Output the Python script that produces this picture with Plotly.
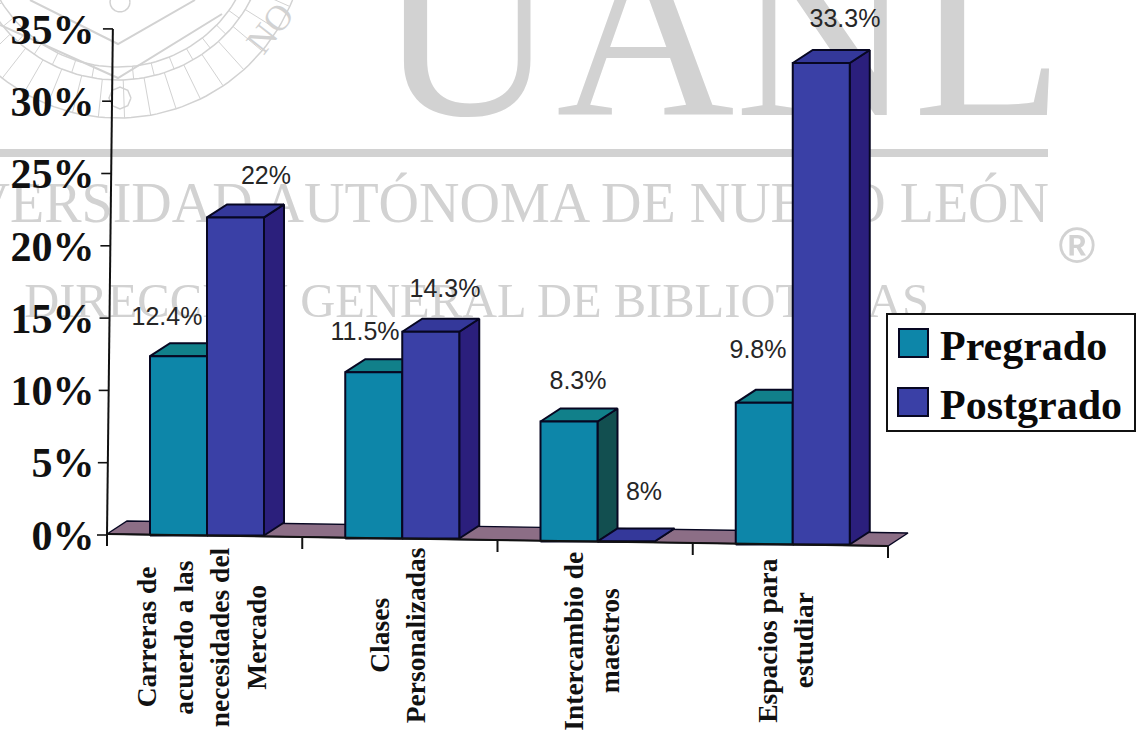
import math
import plotly.graph_objects as go

# ---------- data ----------
categories = [["Carreras de", "acuerdo a las", "necesidades del", "Mercado"],
              ["Clases", "Personalizadas"],
              ["Intercambio de", "maestros"],
              ["Espacios para", "estudiar"]]
pregrado = [12.4, 11.5, 8.3, 9.8]
postgrado = [22, 14.3, 0, 33.3]
pregrado_labels = ["12.4%", "11.5%", "8.3%", "9.8%"]
postgrado_labels = ["22%", "14.3%", "8%", "33.3%"]
y_ticks = [0, 5, 10, 15, 20, 25, 30, 35]
y_tick_labels = ["0%", "5%", "10%", "15%", "20%", "25%", "30%", "35%"]

# ---------- layout geometry ----------
W, H = 1142, 733
X0, UX = 107, 195.25     # pixel of category edge 0, pixels per category
Y0, UY = 535, 14.46      # pixel of 0%, pixels per 1%
DX, DY = 20, 13          # 3D depth, pixels
BAR_W = 57


def u(px):
    return (px - X0) / UX


def v(py):
    return (Y0 - py) / UY


def sink(x):
    """pixels the floor has dropped at data position x"""
    return -1 + 3 * x


C_PRE, C_PRE_TOP, C_PRE_SIDE = "#0D86A9", "#11808A", "#124F50"
C_POST, C_POST_TOP, C_POST_SIDE = "#3A40A6", "#34389A", "#2B1F7C"
C_FLOOR = "#8C6E86"
C_EDGE = "#070722"
WM = "#D2D2D2"

fig = go.Figure()


def poly(xs, ys, fill, name, line=C_EDGE, width=2):
    fig.add_trace(go.Scatter(x=xs + xs[:1], y=ys + ys[:1], mode="lines", fill="toself",
                             fillcolor=fill, line=dict(color=line, width=width),
                             hoverinfo="skip", showlegend=False, name=name))


def seg(xs, ys, color, width, name):
    fig.add_trace(go.Scatter(x=xs, y=ys, mode="lines", line=dict(color=color, width=width),
                             hoverinfo="skip", showlegend=False, name=name))


def txt(px, py, text, size, color, family, pos="middle center"):
    fig.add_trace(go.Scatter(x=[u(px)], y=[v(py)], mode="text", text=[text], textposition=pos,
                             textfont=dict(size=size, color=color, family=family),
                             hoverinfo="skip", showlegend=False))


# ---------- watermark (behind the chart) ----------
SERIF = "Liberation Serif"
txt(721, 53, "UANL", 247, WM, SERIF)
txt(1049, 208, "UNIVERSIDAD AUTÓNOMA DE NUEVO LEÓN", 56, WM, SERIF, "middle left")
txt(929, 305, "DIRECCIÓN GENERAL DE BIBLIOTECAS", 48.5, WM, SERIF, "middle left")
txt(1077, 250, "<b>®</b>", 50, WM, "Liberation Sans")
seg([u(0), u(1048)], [v(153), v(153)], WM, 8, "rule")

cx, cy = 118, -70
for r in (188, 150, 137):
    a = [math.radians(t) for t in range(0, 181, 2)]
    seg([u(cx + r * math.cos(t)) for t in a], [v(cy + r * math.sin(t)) for t in a], WM, 1.5, "seal")
for t in range(20, 161, 4):
    a = math.radians(t)
    r1, r2 = (150, 188) if t % 8 == 0 else (137, 150)
    seg([u(cx + r1 * math.cos(a)), u(cx + r2 * math.cos(a))],
        [v(cy + r1 * math.sin(a)), v(cy + r2 * math.sin(a))], WM, 1, "seal")
seg([u(0), u(118), u(222)], [v(25), v(78), v(14)], WM, 2, "shield")
seg([u(30), u(118), u(195)], [v(0), v(44), v(0)], WM, 2, "shield")
a = [math.radians(t) for t in range(0, 361, 45)]
seg([u(120 + 11 * math.cos(t)) for t in a], [v(98 + 11 * math.sin(t)) for t in a], WM, 1.5, "seal")
a = [math.radians(t) for t in range(0, 361, 20)]
seg([u(120 + 10 * math.cos(t)) for t in a], [v(2 + 10 * math.sin(t)) for t in a], WM, 1.5, "seal")

# ---------- floor ----------
end = 4.0
poly([0, end, u(X0 + end * UX + DX), u(X0 + DX)],
     [v(Y0 + sink(0)), v(Y0 + sink(end)), v(Y0 + sink(end) - DY), v(Y0 + sink(0) - DY)],
     C_FLOOR, "floor", width=1.4)


# ---------- bars ----------
def bar(x_left_px, value, base_px, front, top, side, name):
    h = value
    base = v(base_px)
    xl, xr = u(x_left_px), u(x_left_px + BAR_W)
    dx, dy = DX / UX, DY / UY
    poly([xr, xr + dx, xr + dx, xr], [base, base + dy, base + h + dy, base + h], side, name + " side")
    poly([xl, xr, xr + dx, xl + dx], [base + h, base + h, base + h + dy, base + h + dy], top, name + " top")
    poly([xl, xr, xr, xl], [base, base, base + h, base + h], front, name)


for i, (a_val, b_val) in enumerate(zip(pregrado, postgrado)):
    left = X0 + i * UX + 43
    base_px = Y0 + sink(i + 0.5)
    bar(left, a_val, base_px, C_PRE, C_PRE_TOP, C_PRE_SIDE, "Pregrado")
    bar(left + BAR_W, b_val, base_px, C_POST, C_POST_TOP, C_POST_SIDE, "Postgrado")

# ---------- axes drawn with the slight tilt of the scan ----------
seg([0, 0.03], [0, 35], "#111111", 2, "y axis")
for t in y_ticks:
    seg([u(X0 + t * 0.17 - 10), u(X0 + t * 0.17)], [t, t], "#111111", 1.6, "y tick")
seg([0, end], [v(Y0 + sink(0)), v(Y0 + sink(end))], "#111111", 2, "x axis")
for i in range(5):
    seg([i, i], [v(Y0 + sink(i)), v(Y0 + sink(i) + 12)], "#111111", 2, "x tick")

# ---------- value labels ----------
pre_label_px = [(167, 319), (365, 334), (578, 383), (758, 352)]
post_label_px = [(266, 178), (445, 291), (644, 494), (845, 21)]
SANS = "Liberation Sans"
for (px, py), s in zip(pre_label_px + post_label_px, pregrado_labels + postgrado_labels):
    txt(px, py, s, 25, "#262626", SANS)

# ---------- category labels ----------
cat_px = [(201, 637), (397, 635), (591, 641), (785, 640)]
LINE_STEP = 36.5
annotations = []
for (px, py), lines in zip(cat_px, categories):
    n = len(lines)
    for k, line in enumerate(lines):
        annotations.append(dict(x=u(px + (k - (n - 1) / 2) * LINE_STEP), y=v(py), xref="x", yref="y",
                                text="<b>%s</b>" % line, textangle=-90, showarrow=False,
                                xanchor="center", yanchor="middle",
                                font=dict(family=SERIF, size=27.5, color="#111111")))
annotations.append(dict(x=u(270), y=v(28), xref="x", yref="y", text="NO", textangle=-52, showarrow=False,
                        font=dict(family=SERIF, size=36, color=WM)))

# ---------- legend ----------
def px_x(p):
    return p / W


def px_y(p):
    return 1 - p / H


shapes = [dict(type="rect", xref="paper", yref="paper", x0=px_x(887), x1=px_x(1135), y0=px_y(314), y1=px_y(431),
               fillcolor="white", line=dict(color="#111111", width=2), layer="above"),
          dict(type="rect", xref="paper", yref="paper", x0=px_x(899), x1=px_x(928), y0=px_y(329), y1=px_y(357),
               fillcolor=C_PRE, line=dict(color=C_EDGE, width=2), layer="above"),
          dict(type="rect", xref="paper", yref="paper", x0=px_x(898), x1=px_x(928), y0=px_y(388), y1=px_y(416),
               fillcolor=C_POST, line=dict(color=C_EDGE, width=2), layer="above")]
for name, py in (("Pregrado", 346), ("Postgrado", 405)):
    annotations.append(dict(x=px_x(938), y=px_y(py), xref="paper", yref="paper", text="<b>%s</b>" % name,
                            showarrow=False, xanchor="left", yanchor="middle",
                            font=dict(family=SERIF, size=42, color="#0A0A0A")))

fig.update_layout(
    width=W, height=H, margin=dict(l=0, r=0, t=0, b=0), autosize=False,
    paper_bgcolor="white", plot_bgcolor="white", showlegend=False,
    xaxis=dict(range=[u(0), u(W)], visible=False, fixedrange=True),
    yaxis=dict(range=[v(H), v(0)], anchor="free", position=X0 / W, side="left",
               tickmode="array", tickvals=y_ticks, ticktext=y_tick_labels,
               showgrid=False, zeroline=False, showline=False,
               ticks="outside", ticklen=4, tickcolor="rgba(0,0,0,0)",
               tickfont=dict(family=SERIF, size=42, color="#111111", weight="bold"), fixedrange=True),
    annotations=annotations, shapes=shapes,
)
fig.write_html("out.html", config={"displayModeBar": False},
               post_script="document.body.style.margin='0';document.body.style.overflow='hidden';")
